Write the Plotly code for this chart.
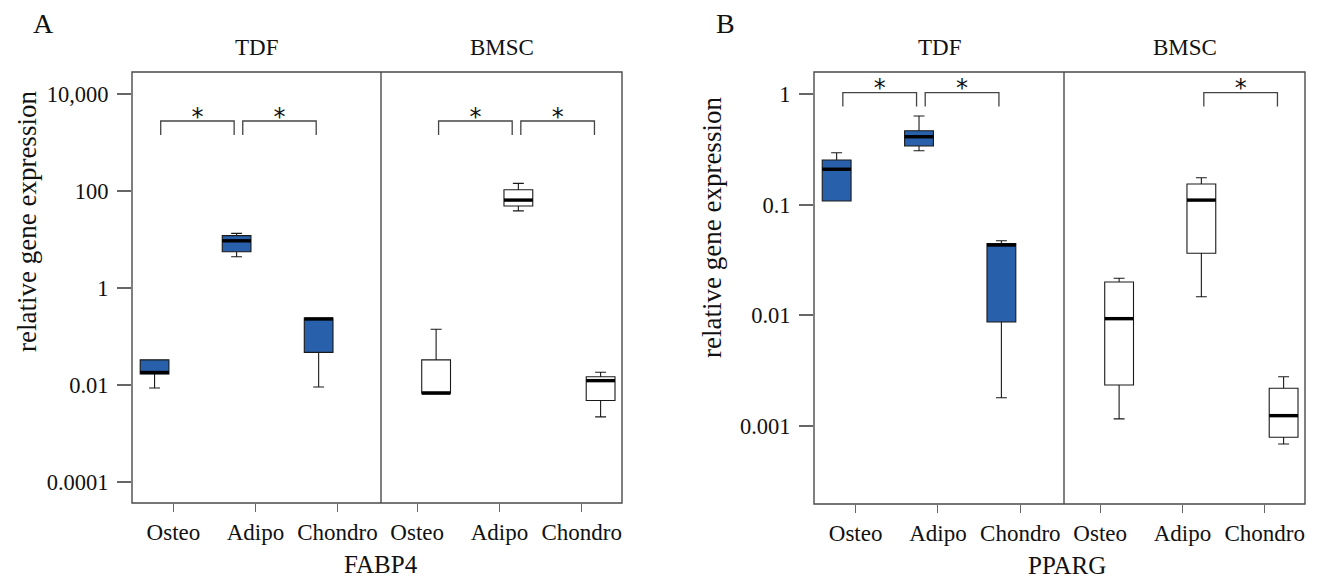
import plotly.graph_objects as go

W, H = 1317, 580

CATEGORIES = ["Osteo", "Adipo", "Chondro"]
GROUPS = ["TDF", "BMSC"]

# ---- Panel A: FABP4 (five-number summaries per category) ----
FABP4_TDF_LOW = [0.0087, 4.4, 0.0091]
FABP4_TDF_Q1 = [0.0169, 5.6, 0.047]
FABP4_TDF_MED = [0.0181, 9.4, 0.23]
FABP4_TDF_Q3 = [0.033, 12.0, 0.24]
FABP4_TDF_HIGH = [0.033, 13.4, 0.24]

FABP4_BMSC_LOW = [0.0068, 39.0, 0.0022]
FABP4_BMSC_Q1 = [0.0068, 49.0, 0.0048]
FABP4_BMSC_MED = [0.0068, 65.0, 0.0123]
FABP4_BMSC_Q3 = [0.033, 106.0, 0.0148]
FABP4_BMSC_HIGH = [0.141, 144.0, 0.0183]

# ---- Panel B: PPARG ----
PPARG_TDF_LOW = [0.108, 0.307, 0.0018]
PPARG_TDF_Q1 = [0.108, 0.339, 0.0087]
PPARG_TDF_MED = [0.209, 0.411, 0.0432]
PPARG_TDF_Q3 = [0.253, 0.466, 0.0446]
PPARG_TDF_HIGH = [0.295, 0.633, 0.0472]

PPARG_BMSC_LOW = [0.00116, 0.0147, 0.000688]
PPARG_BMSC_Q1 = [0.00235, 0.0364, 0.000791]
PPARG_BMSC_MED = [0.00933, 0.110, 0.00124]
PPARG_BMSC_Q3 = [0.0200, 0.154, 0.00219]
PPARG_BMSC_HIGH = [0.0216, 0.175, 0.00279]

FABP4_TICKS = [1e-4, 1e-2, 1, 1e2, 1e4]
FABP4_TICK_LABELS = ["0.0001", "0.01", "1", "100", "10,000"]
PPARG_TICKS = [1e-3, 1e-2, 1e-1, 1]
PPARG_TICK_LABELS = ["0.001", "0.01", "0.1", "1"]

# significance brackets: (group, from category index, to category index)
FABP4_SIG = [("TDF", 0, 1), ("TDF", 1, 2), ("BMSC", 0, 1), ("BMSC", 1, 2)]
PPARG_SIG = [("TDF", 0, 1), ("TDF", 1, 2), ("BMSC", 1, 2)]

# ---- styles / layout geometry ----
FONT = "Liberation Serif"
BLUE = "#2960ab"
FRAME = "#4a4a4a"
TICKC = "#666666"
BOX_W = 0.35
BOX_OFF = {"TDF": -0.23, "BMSC": 0.23}
BR_OFF = {"TDF": (-0.155, -0.26), "BMSC": (0.26, 0.155)}
FILL = {"TDF": BLUE, "BMSC": "white"}
XRANGE = {"TDF": [-0.505, 2.53], "BMSC": [-0.44, 2.49]}


def px(x):
    return x / W


def py(y):
    return 1 - y / H


panels = [
    dict(name="A", gene="FABP4",
         data={"TDF": (FABP4_TDF_LOW, FABP4_TDF_Q1, FABP4_TDF_MED, FABP4_TDF_Q3, FABP4_TDF_HIGH),
               "BMSC": (FABP4_BMSC_LOW, FABP4_BMSC_Q1, FABP4_BMSC_MED, FABP4_BMSC_Q3, FABP4_BMSC_HIGH)},
         ticks=FABP4_TICKS, labels=FABP4_TICK_LABELS, sig=FABP4_SIG,
         yrange=[-4.433, 4.454], xdom={"TDF": (132, 381), "BMSC": (381, 622)}, ydom=(72, 503),
         br=(1430, 2780, 3050), letter=(43, 23), ytitle=(27, 222), gtitle=(381, 564)),
    dict(name="B", gene="PPARG",
         data={"TDF": (PPARG_TDF_LOW, PPARG_TDF_Q1, PPARG_TDF_MED, PPARG_TDF_Q3, PPARG_TDF_HIGH),
               "BMSC": (PPARG_BMSC_LOW, PPARG_BMSC_Q1, PPARG_BMSC_MED, PPARG_BMSC_Q3, PPARG_BMSC_HIGH)},
         ticks=PPARG_TICKS, labels=PPARG_TICK_LABELS, sig=PPARG_SIG,
         yrange=[-3.705, 0.199], xdom={"TDF": (814, 1064), "BMSC": (1064, 1305)}, ydom=(72, 504),
         br=(0.77, 1.03, 1.09), letter=(725, 23), ytitle=(712, 228), gtitle=(1067, 565)),
]

fig = go.Figure()
layout = dict(width=W, height=H, margin=dict(l=0, r=0, t=0, b=0),
              paper_bgcolor="white", plot_bgcolor="rgba(0,0,0,0)", showlegend=False,
              font=dict(family=FONT, color="#111111"))
shapes = []
annotations = []

axis_n = 0
for p in panels:
    for g in GROUPS:
        axis_n += 1
        xa = "x" if axis_n == 1 else f"x{axis_n}"
        ya = "y" if axis_n == 1 else f"y{axis_n}"
        xkey = "xaxis" if axis_n == 1 else f"xaxis{axis_n}"
        ykey = "yaxis" if axis_n == 1 else f"yaxis{axis_n}"
        x0, x1 = p["xdom"][g]
        layout[xkey] = dict(domain=[px(x0), px(x1)], range=XRANGE[g], anchor=ya,
                            tickmode="array", tickvals=[0, 1, 2], ticktext=CATEGORIES,
                            ticks="outside", ticklen=8, tickwidth=1.3, tickcolor=TICKC,
                            showline=False, showgrid=False, zeroline=False,
                            tickfont=dict(family=FONT, size=23, color="#111111"))
        is_first = g == "TDF"
        layout[ykey] = dict(domain=[py(p["ydom"][1]), py(p["ydom"][0])], type="log",
                            range=p["yrange"], anchor=xa,
                            tickmode="array", tickvals=p["ticks"], ticktext=p["labels"],
                            ticks="outside" if is_first else "", ticklen=14, tickwidth=1.5,
                            tickcolor=TICKC, showticklabels=is_first, ticklabelstandoff=4,
                            showline=False, showgrid=False, zeroline=False,
                            tickfont=dict(family=FONT, size=22.5, color="#111111"))
        low, q1, med, q3, high = p["data"][g]
        centers = [i + BOX_OFF[g] for i in range(len(CATEGORIES))]
        fig.add_trace(go.Box(x=centers, lowerfence=low, q1=q1, median=med, q3=q3, upperfence=high,
                             width=BOX_W, whiskerwidth=0.38, fillcolor=FILL[g],
                             line=dict(color="#1a1a1a", width=1.1), boxpoints=False,
                             hoverinfo="skip", xaxis=xa, yaxis=ya))
        mx, my = [], []
        for c, m in zip(centers, med):
            mx += [c - BOX_W / 2, c + BOX_W / 2, None]
            my += [m, m, None]
        fig.add_trace(go.Scatter(x=mx, y=my, mode="lines", line=dict(color="black", width=3.4),
                                 hoverinfo="skip", xaxis=xa, yaxis=ya))
        # significance brackets
        bx, by, sx, sy = [], [], [], []
        for (sg, i, j) in p["sig"]:
            if sg != g:
                continue
            l = i + BR_OFF[g][0]
            r = j + BR_OFF[g][1]
            bx += [l, l, r, r, None]
            by += [p["br"][0], p["br"][1], p["br"][1], p["br"][0], None]
            sx.append((l + r) / 2)
            sy.append(p["br"][2])
        if bx:
            fig.add_trace(go.Scatter(x=bx, y=by, mode="lines", line=dict(color="#444444", width=1.3),
                                     hoverinfo="skip", xaxis=xa, yaxis=ya))
            fig.add_trace(go.Scatter(x=sx, y=sy, mode="text", text=["*"] * len(sx),
                                     textposition="middle center",
                                     textfont=dict(family="DejaVu Sans", size=24, color="#111111"),
                                     hoverinfo="skip", xaxis=xa, yaxis=ya))
        annotations.append(dict(text=g, xref=f"{xa} domain", yref="paper", x=0.5, y=py(48),
                                xanchor="center", yanchor="middle", showarrow=False,
                                font=dict(family=FONT, size=23, color="#111111")))
    # frame + divider
    xl = p["xdom"]["TDF"][0]
    xm = p["xdom"]["TDF"][1]
    xr = p["xdom"]["BMSC"][1]
    yt, yb = p["ydom"]
    shapes.append(dict(type="rect", xref="paper", yref="paper", x0=px(xl), x1=px(xr),
                       y0=py(yb), y1=py(yt), line=dict(color=FRAME, width=1.4)))
    shapes.append(dict(type="line", xref="paper", yref="paper", x0=px(xm), x1=px(xm),
                       y0=py(yb), y1=py(yt), line=dict(color=FRAME, width=1.4)))
    annotations.append(dict(text=p["name"], xref="paper", yref="paper", x=px(p["letter"][0]),
                            y=py(p["letter"][1]), xanchor="center", yanchor="middle",
                            showarrow=False, font=dict(family=FONT, size=28, color="#111111")))
    annotations.append(dict(text="relative gene expression", xref="paper", yref="paper",
                            x=px(p["ytitle"][0]), y=py(p["ytitle"][1]), textangle=-90,
                            xanchor="center", yanchor="middle", showarrow=False,
                            font=dict(family=FONT, size=27, color="#111111")))
    annotations.append(dict(text=p["gene"], xref="paper", yref="paper", x=px(p["gtitle"][0]),
                            y=py(p["gtitle"][1]), xanchor="center", yanchor="middle",
                            showarrow=False, font=dict(family=FONT, size=25, color="#111111")))

layout["shapes"] = shapes
layout["annotations"] = annotations
fig.update_layout(**layout)

fig.write_html("out.html", config={"displayModeBar": False},
               post_script="document.body.style.margin='0';")
